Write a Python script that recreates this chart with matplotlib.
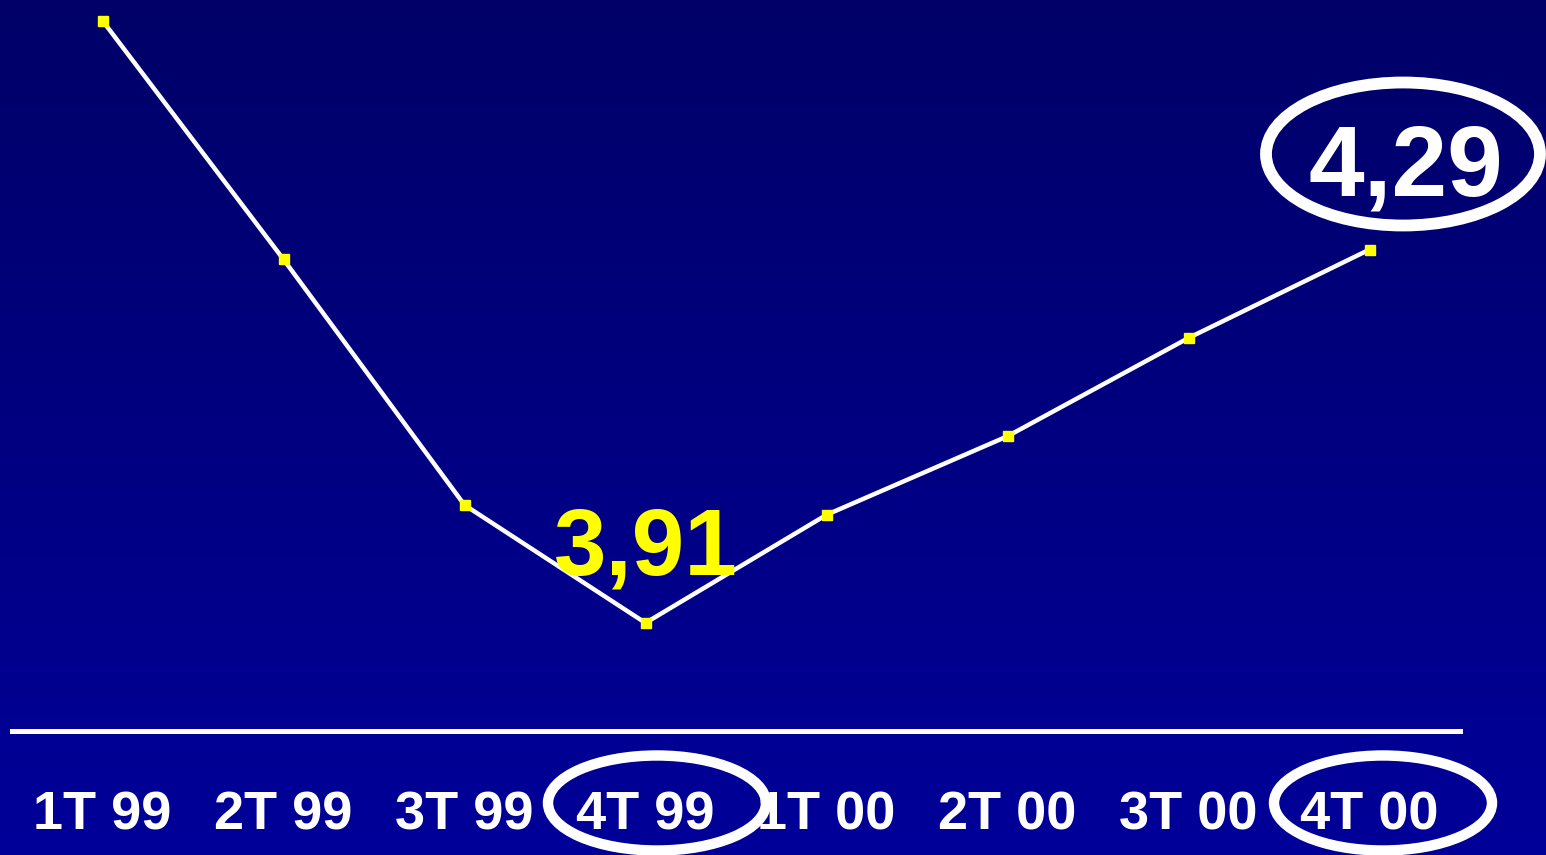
import numpy as np
import matplotlib.pyplot as plt
from matplotlib.patches import Ellipse

quarters = ['1T 99', '2T 99', '3T 99', '4T 99', '1T 00', '2T 00', '3T 00', '4T 00']
values = [4.523, 4.28, 4.03, 3.91, 4.02, 4.10, 4.20, 4.29]

fig = plt.figure(figsize=(15.46, 8.55), dpi=100)

# gradient background
bg = fig.add_axes([0, 0, 1, 1])
grad = np.linspace(0, 1, 256).reshape(-1, 1)
top = np.array([0, 0, 104]) / 255
bot = np.array([0, 0, 153]) / 255
img = top + grad[..., None] * (bot - top)
bg.imshow(img, aspect='auto', extent=[0, 1, 0, 1], origin='upper')
bg.axis('off')

ax = fig.add_axes([12 / 1546, 124 / 855, 1448 / 1546, 731 / 855])
ax.patch.set_alpha(0)
x = np.arange(len(quarters))
ax.plot(x, values, color='white', lw=3.2, zorder=2)
ax.plot(x, values, 's', color='#ffff00', ms=7.5, mec='#ffff00', zorder=3)
ax.set_xlim(-0.5, 7.5)
ax.set_ylim(3.80, 4.544)

for s in ['top', 'left', 'right']:
    ax.spines[s].set_visible(False)
ax.spines['bottom'].set_color('white')
ax.spines['bottom'].set_linewidth(3.6)
ax.set_yticks([])
ax.set_xticks(x)
ax.set_xticklabels(quarters, color='white', fontsize=39, fontweight='bold',
                   family='Liberation Sans')
ax.tick_params(axis='x', length=0, pad=43)

ax.text(3, 3.959, '3,91', color='#ffff00', fontsize=68, fontweight='bold',
        family='Liberation Sans', ha='center', va='baseline')
ax.text(7.2, 4.3455, '4,29', color='white', fontsize=72, fontweight='bold',
        family='Liberation Sans', ha='center', va='baseline')

# highlight ellipses (figure inches)
for cx, cy, w, h, lw in [(1403, 154, 274, 143, 8.5), (657, 803, 218, 95, 7.5),
                         (1383, 803, 218, 95, 7.5)]:
    e = Ellipse((cx / 100, (855 - cy) / 100), w / 100, h / 100, fill=False,
                ec='white', lw=lw, transform=fig.dpi_scale_trans, zorder=5)
    fig.add_artist(e)

fig.savefig('out.png', dpi=100)
